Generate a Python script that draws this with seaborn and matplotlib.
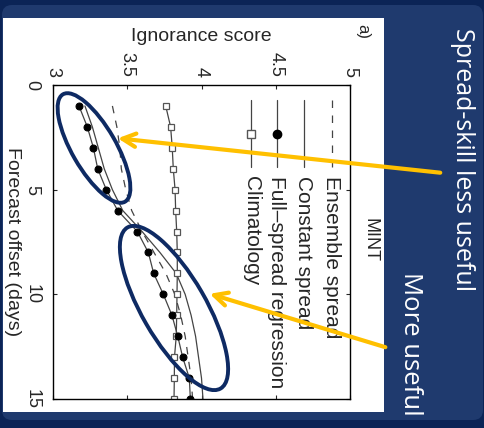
import matplotlib
matplotlib.use("Agg")
import matplotlib.pyplot as plt
import numpy as np
import pandas as pd
import seaborn as sns
from matplotlib.patches import Ellipse, FancyBboxPatch, Rectangle

# forecast offset (days) and ignorance scores
days = list(range(1, 16))
ensemble_spread = [3.40, 3.43, 3.45, 3.46, 3.49, 3.53, 3.60, 3.68, 3.76, 3.82, 3.86, 3.89, 3.91, 3.93, 3.94]
constant_spread = [3.215, 3.265, 3.305, 3.345, 3.40, 3.47, 3.60, 3.72, 3.83, 3.89, 3.93, 3.96, 3.98, 4.00, 4.01]
full_spread = [3.175, 3.231, 3.272, 3.301, 3.359, 3.436, 3.568, 3.642, 3.678, 3.743, 3.801, 3.840, 3.873, 3.918, 3.925]
climatology = [3.759, 3.792, 3.803, 3.810, 3.822, 3.826, 3.833, 3.837, 3.837, 3.835, 3.833, 3.830, 3.818, 3.817, 3.815]

score_ticks = [3, 3.5, 4, 4.5, 5]
day_ticks = [0, 5, 10, 15]

sns.set_style("ticks")
plt.rcParams['font.family'] = ['Liberation Sans', 'DejaVu Sans']

W, H = 485, 428
fig = plt.figure(figsize=(W / 100, H / 100), dpi=100)
fig.patch.set_facecolor('#0b2456')

# slide background
bg = fig.add_axes([0, 0, 1, 1], zorder=0)
bg.set_xlim(0, W)
bg.set_ylim(H, 0)
bg.axis('off')
bg.add_patch(FancyBboxPatch((2, 5), W - 4, H - 13, boxstyle="round,pad=0,rounding_size=10",
                            fc='#1f3a6e', ec='none'))
bg.add_patch(Rectangle((3, 18), 381, 394, fc='white', ec='none'))

# main chart, drawn rotated: score on x (top), days on y (downwards)
ax = fig.add_axes([53 / W, 1 - 399 / H, 297 / W, 314 / H], zorder=1)
ax.set_facecolor('white')

df = pd.DataFrame({"day": days, "ens": ensemble_spread, "const": constant_spread,
                   "full": full_spread, "clim": climatology})
line_kw = dict(color='#444444', linewidth=0.9, orient='y', errorbar=None, legend=False, ax=ax)
sns.lineplot(data=df, x="ens", y="day", linestyle=(0, (6, 6)), **line_kw)
sns.lineplot(data=df, x="const", y="day", **line_kw)
sns.lineplot(data=df, x="clim", y="day", marker='s', markersize=5, markerfacecolor='white',
             markeredgecolor='#555555', markeredgewidth=0.9, **line_kw)
sns.lineplot(data=df, x="full", y="day", marker='o', markersize=5, markerfacecolor='black',
             markeredgecolor='black', **line_kw)

ax.set_xlim(3, 5)
ax.set_ylim(15, 0)
ax.set_xticks(score_ticks)
ax.set_xticklabels(['3', '3.5', '4', '4.5', '5'], rotation=-90)
ax.set_yticks(day_ticks)
ax.set_yticklabels([str(d) for d in day_ticks], rotation=-90, va='center')
ax.tick_params(axis='x', top=True, bottom=True, labeltop=True, labelbottom=False,
               direction='in', length=3, labelsize=13, pad=6)
ax.tick_params(axis='y', left=True, right=True, labelleft=True, direction='in',
               length=3, labelsize=13, pad=9)
for s in ax.spines.values():
    s.set_linewidth(1.0)
    s.set_color('black')
ax.xaxis.set_label_position('top')
ax.set_xlabel('Ignorance score', fontsize=14, labelpad=8)
ax.set_ylabel('Forecast offset (days)', fontsize=14, rotation=-90, ha='center', va='center')
ax.yaxis.set_label_coords(-0.138, 0.5)

# title and panel letter
ax.text(1.067, 0.506, 'MINT', transform=ax.transAxes, rotation=-90, fontsize=13,
        ha='center', va='center')
ax.text(1.044, 1.17, 'a)', transform=ax.transAxes, rotation=-90, fontsize=12,
        ha='center', va='center')

# legend, drawn as vertical samples
leg_items = [("Ensemble spread", dict(linestyle=(0, (6, 6)))),
             ("Constant spread", dict()),
             ("Full\u2013spread regression", dict(marker='o', mfc='black', mec='black')),
             ("Climatology", dict(marker='s', mfc='white', mec='#555555'))]
leg_x = [0.939, 0.845, 0.754, 0.667]
for (name, kw), lx in zip(leg_items, leg_x):
    ax.plot([lx, lx], [0.952, 0.739], transform=ax.transAxes, color='#444444', lw=0.9,
            **{k: v for k, v in kw.items() if k not in ('marker', 'mfc', 'mec')})
    if 'marker' in kw:
        ax.plot([lx], [0.845], transform=ax.transAxes, marker=kw['marker'], ms=6,
                mfc=kw['mfc'], mec=kw['mec'], ls='none')
    ax.text(lx, 0.71, name, transform=ax.transAxes, rotation=-90, fontsize=15,
            ha='center', va='top')

# annotations on top
ov = fig.add_axes([0, 0, 1, 1], zorder=2)
ov.set_xlim(0, W)
ov.set_ylim(H, 0)
ov.axis('off')
ov.set_facecolor('none')
ov.add_patch(Ellipse((94, 148), 44, 124, angle=-30, fill=False, ec='#0e2a63', lw=2.8))
ov.add_patch(Ellipse((174, 308), 64, 186, angle=-30, fill=False, ec='#0e2a63', lw=2.8))
ov.annotate('', xy=(115, 138), xytext=(443, 173),
            arrowprops=dict(arrowstyle='->', color='#FFC000', lw=3, mutation_scale=24))
ov.annotate('', xy=(207, 293), xytext=(388, 348),
            arrowprops=dict(arrowstyle='->', color='#FFC000', lw=3, mutation_scale=24))
ov.text(463, 28, 'Spread-skill less useful', rotation=-90, color='white', fontsize=18,
        family=['Open Sans', 'DejaVu Sans'], ha='center', va='top')
ov.text(411, 272, 'More useful', rotation=-90, color='white', fontsize=18.5,
        family=['Open Sans', 'DejaVu Sans'], ha='center', va='top')

fig.savefig('out.png', dpi=100, facecolor=fig.get_facecolor())
